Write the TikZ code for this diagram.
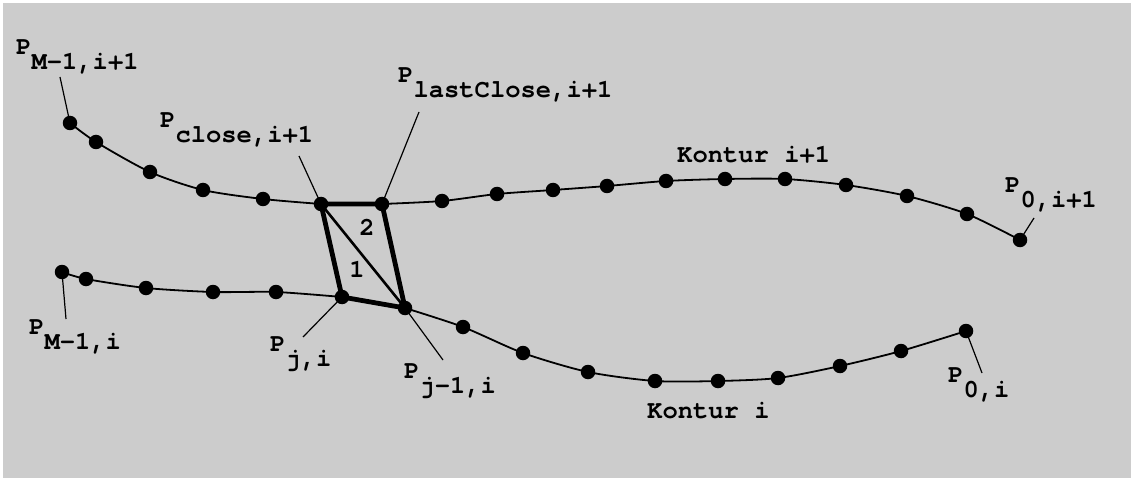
\documentclass[tikz,border=0pt]{standalone}
\usepackage{fontspec}
\setmonofont{TeX Gyre Cursor}
\newcommand\lsub[1]{\lower15pt\hbox{#1}}
\begin{document}
\begin{tikzpicture}[x=1pt,y=-1pt,
  dot/.style={circle,fill=black,inner sep=0pt,minimum size=14.5pt},
  contour/.style={line width=1.8pt},
  leader/.style={line width=1.2pt},
  edgebold/.style={line width=4.8pt,line cap=round,line join=round},
  diag/.style={line width=2.6pt},
  lbl/.style={inner sep=0pt,anchor=base west,font=\ttfamily\bfseries\fontsize{25.5}{30}\selectfont},
  num/.style={inner sep=0pt,font=\ttfamily\bfseries\fontsize{25.5}{30}\selectfont}]
  % background with light rim on top and left
  \fill[white] (0,0) rectangle (1131,478);
  \fill[fill={rgb,255:red,204;green,204;blue,204}] (3,3) rectangle (1131,478);
  \useasboundingbox (0,0) rectangle (1131,478);

  % contour i+1
  \foreach \n/\x/\y in {u1/70/123,u2/96/142,u3/150/172,u4/203/190,u5/263/199,
      close/321/204,last/382/204,u8/442/201,u9/497/194,u10/553/190,u11/607/186,
      u12/666/181,u13/725/179,u14/785/179,u15/846/185,u16/907/196,u17/967/214,u18/1020/240}
    \node[dot] (\n) at (\x,\y) {};
  % contour i
  \foreach \n/\x/\y in {l1/62/272,l2/86/279,l3/146/288,l4/213/292,l5/276/292,
      pj/342/297,pj1/405/308,l8/463/327,l9/523/353,l10/588/372,l11/655/381,
      l12/718/381,l13/778/378,l14/840/366,l15/901/351,l16/966/331}
    \node[dot] (\n) at (\x,\y) {};

  \draw[contour] plot[smooth,tension=0.45] coordinates {(u1.center) (u2.center) (u3.center)
    (u4.center) (u5.center) (close.center)};
  \draw[contour] plot[smooth,tension=0.45] coordinates {(last.center) (u8.center) (u9.center)
    (u10.center) (u11.center) (u12.center) (u13.center) (u14.center) (u15.center)
    (u16.center) (u17.center) (u18.center)};
  \draw[contour] plot[smooth,tension=0.45] coordinates {(l1.center) (l2.center) (l3.center)
    (l4.center) (l5.center) (pj.center)};
  \draw[contour] plot[smooth,tension=0.45] coordinates {(pj1.center) (l8.center) (l9.center)
    (l10.center) (l11.center) (l12.center) (l13.center) (l14.center) (l15.center)
    (l16.center)};

  % the two triangles between the contours
  \draw[edgebold] (close.center) -- (last.center) -- (pj1.center) -- (pj.center) -- cycle;
  \draw[diag] (close.center) -- (pj1.center);
  \node[num] (t1) at (357,269) {1};
  \node[num] (t2) at (367,227) {2};

  % contour names
  \node[lbl] (k1) at (677,163) {Kontur i+1};
  \node[lbl] (k0) at (647,418) {Kontur i};

  % point labels and their leaders
  \node[lbl] (pM1u) at (16,55) {P\lsub{M-1,i+1}};
  \coordinate (eM1u) at (60,77);
  \draw[leader] (eM1u) -- (u1.center);

  \node[lbl] (pcl) at (160,128) {P\lsub{close,i+1}};
  \coordinate (ecl) at (299,156);
  \draw[leader] (ecl) -- (close.center);

  \node[lbl] (plc) at (398,83) {P\lsub{lastClose,i+1}};
  \coordinate (elc) at (419,112);
  \draw[leader] (elc) -- (last.center);

  \node[lbl] (p0u) at (1005,193) {P\lsub{0,i+1}};
  \coordinate (e0u) at (1034,218);
  \draw[leader] (e0u) -- (u18.center);

  \node[lbl] (pM1l) at (29,334) {P\lsub{M-1,i}};
  \coordinate (eM1l) at (66,319);
  \draw[leader] (eM1l) -- (l1.center);

  \node[lbl] (pji) at (270,351) {P\lsub{j,i}};
  \coordinate (eji) at (303,337);
  \draw[leader] (eji) -- (pj.center);

  \node[lbl] (pj1i) at (404,378) {P\lsub{j-1,i}};
  \coordinate (ej1i) at (443,360);
  \draw[leader] (ej1i) -- (pj1.center);

  \node[lbl] (p0l) at (948,382) {P\lsub{0,i}};
  \coordinate (e0l) at (982,373);
  \draw[leader] (e0l) -- (l16.center);
\end{tikzpicture}
\end{document}
